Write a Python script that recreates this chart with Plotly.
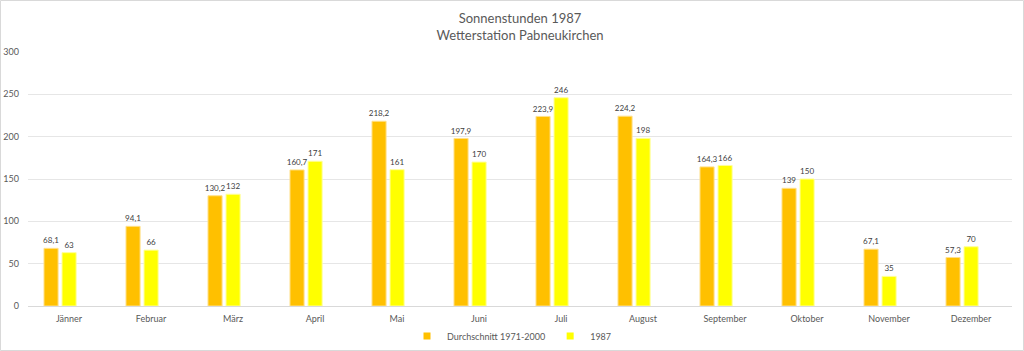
import plotly.graph_objects as go

months = ["Jänner", "Februar", "März", "April", "Mai", "Juni", "Juli",
          "August", "September", "Oktober", "November", "Dezember"]
avg_1971_2000 = [68.1, 94.1, 130.2, 160.7, 218.2, 197.9, 223.9, 224.2, 164.3, 139, 67.1, 57.3]
year_1987 = [63, 66, 132, 171, 161, 170, 246, 198, 166, 150, 35, 70]
y_ticks = [0, 50, 100, 150, 200, 250, 300]
series_names = ["Durchschnitt 1971-2000", "1987"]
series_colors = ["#FFC000", "#FFFF00"]


def fmt(v):
    s = ("%g" % v)
    return s.replace(".", ",")


W, H = 1024, 351
ML, MR, MT, MB = 28, 12, 52, 45
PW, PH = W - ML - MR, H - MT - MB

font_family = "Lato, 'Open Sans', sans-serif"
grey = "#595959"

fig = go.Figure()
for vals, name, color, off, lc in [
    (avg_1971_2000, series_names[0], series_colors[0], -0.305, "#FFE08A"),
    (year_1987, series_names[1], series_colors[1], -0.085, "#FFFF99"),
]:
    fig.add_trace(go.Bar(
        x=months, y=vals, name=name, legendgroup=name, showlegend=False,
        marker=dict(color=color, line=dict(color=lc, width=1)),
        offset=off, width=0.172,
        text=[fmt(v) for v in vals], textposition="outside",
        textfont=dict(size=8.5, color="#404040", family=font_family),
        cliponaxis=False,
    ))
# legend entries with small square swatches
for name, color in zip(series_names, series_colors):
    fig.add_trace(go.Scatter(
        x=[None], y=[None], mode="markers", name=name, legendgroup=name,
        marker=dict(symbol="square", size=7, color=color),
        showlegend=True, hoverinfo="skip",
    ))

fig.update_layout(
    width=W, height=H,
    margin=dict(l=ML, r=MR, t=MT, b=MB, autoexpand=False),
    paper_bgcolor="white", plot_bgcolor="white",
    font=dict(family=font_family, color=grey, size=9),
    title=dict(text="Sonnenstunden 1987<br>Wetterstation Pabneukirchen",
               x=0.5, xanchor="center", xref="paper",
               yref="container", y=1 - 23 / H, yanchor="middle",
               automargin=False,
               font=dict(size=13, color=grey, family=font_family)),
    barmode="group",
    showlegend=True,
    legend=dict(orientation="h", x=0.5, xanchor="center", xref="container",
                yref="container", y=1 - 336 / H, yanchor="middle",
                bgcolor="rgba(0,0,0,0)",
                font=dict(size=9, color=grey, family=font_family),
                itemwidth=30, traceorder="normal", tracegroupgap=0),
    uniformtext=dict(minsize=8, mode="show"),
)
fig.update_xaxes(showgrid=False, showline=True, linecolor="#D9D9D9", linewidth=1,
                 ticks="", tickfont=dict(size=9, color=grey), ticklabelstandoff=4)
fig.update_yaxes(range=[0, 300], tickvals=y_ticks, showgrid=True, gridcolor="#E6E6E6",
                 gridwidth=1, zeroline=False, showline=False, ticks="",
                 tickfont=dict(size=9, color=grey), ticklabelstandoff=8)

# outer chart border
x0 = (0.5 - ML) / PW
x1 = (W - 0.5 - ML) / PW
y0 = -(H - 0.5 - MT - PH) / PH
y1 = 1 + (MT - 0.5) / PH
fig.add_shape(type="rect", xref="paper", yref="paper", x0=x0, x1=x1, y0=y0, y1=y1,
              line=dict(color="#D9D9D9", width=1), fillcolor="rgba(0,0,0,0)", layer="below")

fig.write_html("out.html")
